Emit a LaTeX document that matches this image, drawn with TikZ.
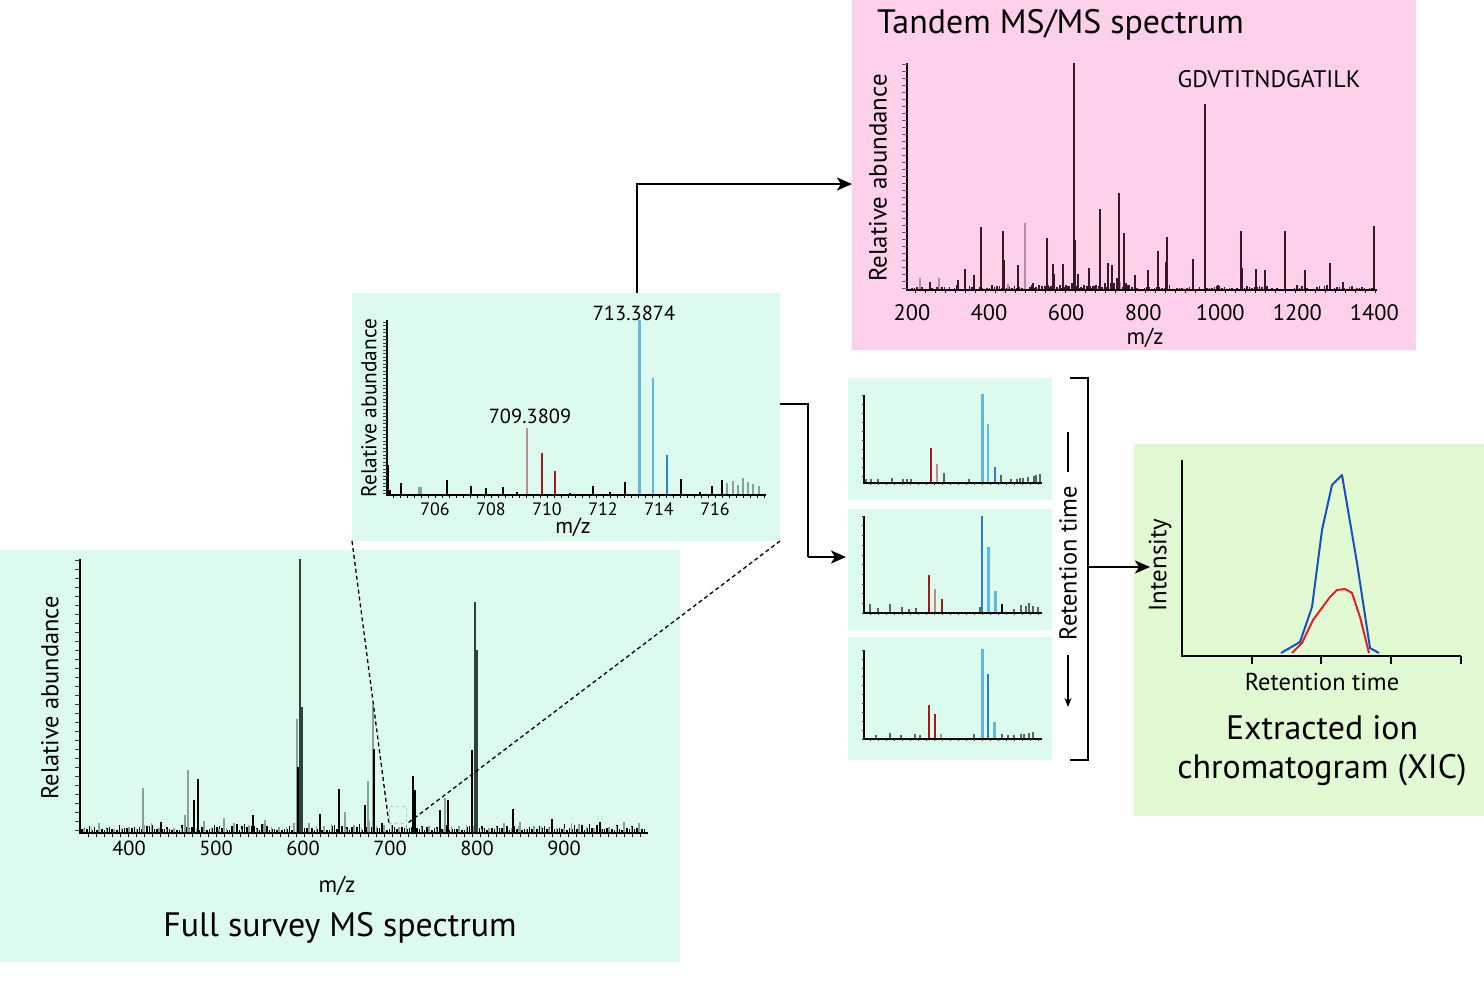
\documentclass[tikz,border=0pt]{standalone}
\usepackage{fontspec}
\setmainfont{PT Sans}
\usetikzlibrary{arrows.meta}
\definecolor{mint}{RGB}{220,250,238}
\definecolor{pinkbg}{RGB}{255,208,236}
\definecolor{xicbg}{RGB}{226,250,212}
\definecolor{peakdark}{RGB}{45,65,65}
\definecolor{peakgray}{RGB}{140,160,155}
\definecolor{msdark}{RGB}{55,25,40}
\definecolor{msgray}{RGB}{185,140,165}
\definecolor{rose}{RGB}{200,135,140}
\definecolor{dred}{RGB}{165,25,25}
\definecolor{lblue}{RGB}{95,185,225}
\definecolor{mblue}{RGB}{40,130,195}
\definecolor{xblue}{RGB}{25,80,190}
\definecolor{xred}{RGB}{230,30,40}
\newcommand\fsz[1]{\fontsize{#1}{#1}\selectfont}
\begin{document}
\begin{tikzpicture}[x=1bp,y=-1bp,
  panel/.style={rectangle,draw=none,inner sep=0pt,outer sep=0pt,anchor=north west},
  lbl/.style={inner sep=0pt,text=black},
  big/.style={lbl,font=\fsz{34}},
  axlab/.style={lbl,font=\fsz{24.5}},
  ticklab/.style={lbl,font=\fsz{20.5}},
  arr/.style={line width=2.2bp,-{Stealth[length=15bp,width=13bp,inset=4bp]}},
  ax/.style={line width=1.6bp,black},
  dline/.style={line width=1.3bp,dash pattern=on 4bp off 3bp},
  pkd/.style={line width=2bp,peakdark},
  pkb/.style={line width=1.5bp,black},
  pkg/.style={line width=2bp,peakgray},
  nz/.style={line width=1.3bp,black},
  msd/.style={line width=1.4bp,msdark},
  msg/.style={line width=2bp,msgray},
  rosep/.style={line width=2.8bp,rose},
  redp/.style={line width=2.5bp,dred},
  redt/.style={line width=1.5bp,dred},
  lbp/.style={line width=3bp,lblue},
  mbp/.style={line width=2.5bp,mblue},
  mbt/.style={line width=1.5bp,mblue}]
\useasboundingbox (0,0) rectangle (1484,980);
\fill[white] (0,0) rectangle (1484,980);
\pgfmathsetseed{4711}

% ---------------- panels ----------------
\node[panel,fill=mint,minimum width=680bp,minimum height=412bp] (full) at (0,550) {};
\node[panel,fill=mint,minimum width=428bp,minimum height=248bp] (zoom) at (352,293) {};
\node[panel,fill=pinkbg,minimum width=564bp,minimum height=350bp] (msms) at (852,0) {};
\node[panel,fill=mint,minimum width=204bp,minimum height=122bp] (sa) at (848,378) {};
\node[panel,fill=mint,minimum width=204bp,minimum height=121bp] (sb) at (848,509) {};
\node[panel,fill=mint,minimum width=204bp,minimum height=123bp] (sc) at (848,637) {};
\node[panel,fill=xicbg,minimum width=350bp,minimum height=372bp] (xic) at (1134,444) {};

% ---------------- full survey spectrum ----------------
\foreach \x in {82,84.5,...,645} {
  \pgfmathsetmacro\h{2+7*rnd*rnd}
  \draw[nz] (\x,832) -- (\x,{832-\h});
}
\foreach \x in {84,91.5,...,645} {
  \pgfmathsetmacro\h{3+9*rnd*rnd}
  \draw[line width=1.6bp,peakgray] (\x,832) -- (\x,{832-\h});
}
\foreach \x/\y in {143/788,188/770,297/719,368/781,373/705,224/818,185/815,265/820,345/812,445/798,520/822} \draw[pkg] (\x,832) -- (\x,\y);
\foreach \x/\y in {198/779,194/800,298/767,339/789,374/749,413/776,415/790,472/750,513/809,320/814,552/819,448/800,161/822,253/815,365/805,600/822,440/810}
  \draw[pkb] (\x,832) -- (\x,\y);
\foreach \x/\y in {300/559,302/707,475/602,477/650} \draw[pkd] (\x,832) -- (\x,\y);
\draw[ax] (80,559) -- (80,833) -- (648,833);
\foreach \y in {560,569,...,832} \draw[line width=1bp,peakdark] (75,\y) -- (80,\y);
\foreach \x in {88,96,...,645} \draw[line width=1bp] (\x,833) -- (\x,837);
\foreach \m in {400,500,...,900} \node[ticklab] (fx\m) at ({129+(\m-400)*0.87},848) {\m};
\node[axlab,rotate=90] (fya) at (50,698) {Relative abundance};
\node[axlab,font=\fsz{23}] (fxa) at (337,886) {m/z};
\node[big] (ftitle) at (340,928) {Full survey MS spectrum};
\node[draw=peakgray!60,dashed,line width=0.8bp,minimum width=17bp,minimum height=17bp,inner sep=0pt,anchor=north west] (sel) at (389,806) {};
\draw[dline] (zoom.south west) -- (sel.south west);
\draw[dline] (zoom.south east) -- (sel.south east);

% ---------------- zoomed spectrum ----------------
\foreach \x/\y in {419/487,421/487,727/483,733/481,738/485,743/478,748/482,753/484,759/486} \draw[line width=2bp,peakgray] (\x,495) -- (\x,\y);
\foreach \x/\y in {681/479,388/465,401/483,447/480,471/486,486/488,503/487,593/486,625/482,712/486,722/480,390/490,517/492,570/493,610/492,700/492}
  \draw[line width=1.4bp,black] (\x,495) -- (\x,\y);
\draw[rosep] (527,495) -- (527,428);
\draw[redp] (542,495) -- (542,453);
\draw[redt] (555,495) -- (555,471);
\draw[lbp] (639,495) -- (639,320);
\draw[line width=2.6bp,lblue] (653,495) -- (653,378);
\draw[mbt] (667,495) -- (667,455);
\draw[ax] (387,320) -- (387,495) -- (766,495);
\foreach \y in {322,325.5,...,494} \draw[line width=0.8bp,peakdark] (383,\y) -- (387,\y);
\foreach \x in {393,400,...,765} \draw[line width=0.8bp] (\x,495) -- (\x,498);
\foreach \m in {706,708,...,716} \node[lbl,font=\fsz{18}] (zx\m) at ({435+(\m-706)*28},509) {\m};
\node[lbl,font=\fsz{21.5},rotate=90] (zya) at (369,408) {Relative abundance};
\node[lbl,font=\fsz{22}] (zxa) at (573,527) {m/z};
\node[lbl,font=\fsz{20.5}] (p709) at (530,416) {709.3809};
\node[lbl,font=\fsz{20.5}] (p713) at (634,313) {713.3874};

% ---------------- MS/MS spectrum ----------------
\foreach \x in {912,914.5,...,1375} {
  \pgfmathsetmacro\h{1+5*rnd*rnd}
  \draw[line width=1.2bp,msdark] (\x,290) -- (\x,{290-\h});
}
\foreach \x in {1030,1033,...,1130} {
  \pgfmathsetmacro\h{3+22*rnd*rnd*rnd}
  \draw[line width=1.6bp,msdark] (\x,290) -- (\x,{290-\h});
}
\foreach \x/\y in {1025/223,920/278,939/278,1120/282,1008/284} \draw[msg] (\x,290) -- (\x,\y);
\foreach \x/\y in {1074/63,1205/104,1119/193,1100/209,981/227,1003/231,1004/260,1047/238,1124/233,1167/237,1166/262,1241/231,1242/268,1285/231,1374/226,1158/251,1193/259,1305/270,1330/263,1256/269,965/269,1018/265,1053/264,1063/264,1108/263,1112/265,1075/240,1205/258,1089/268,1135/275,1148/270,1265/270,1218/285,1297/285,1343/282,974/275,958/280,930/282}
  \draw[msd] (\x,290) -- (\x,\y);
\draw[ax,line width=1.4bp] (907,63) -- (907,290) -- (1377,290);
\foreach \y in {64,71,...,290} \draw[line width=1bp,msdark!70] (902,\y) -- (907,\y);
\foreach \x in {915,925,...,1375} \draw[line width=0.8bp] (\x,290) -- (\x,293);
\foreach \m in {200,400,...,1400} \node[lbl,font=\fsz{22.5}] (mx\m) at ({912+(\m-200)*0.3853},313) {\m};
\node[lbl,font=\fsz{23}] (mxa) at (1145,338) {m/z};
\node[lbl,font=\fsz{25},rotate=90] (mya) at (878,178) {Relative abundance};
\node[lbl,font=\fsz{24}] (seq) at (1269,79) {GDVTITNDGATILK};
\node[big,anchor=west] (mtitle) at (877,25) {Tandem MS/MS spectrum};

% ---------------- small spectra ----------------
% spectrum a
\foreach \x/\y in {866/479,871/479,878/479,892/478,903/479,907/479,911/479,969/479,1001/475,1011/479,1017/479,1020/478,1023/478,1028/477,1034/476,1036/475,1040/474}
  \draw[line width=1.6bp,peakdark!80] (\x,483) -- (\x,\y);
\draw[redt] (931,483) -- (931,448);
\draw[rosep] (937,483) -- (937,464);
\draw[line width=2.5bp,peakdark!80] (944,483) -- (944,473);
\draw[lbp] (982,483) -- (982,394);
\draw[line width=2.5bp,lblue] (988,483) -- (988,424);
\draw[mbt] (995,483) -- (995,467);
\draw[ax,line width=1.3bp] (864,395) -- (864,483) -- (1042,483);
\foreach \y in {395,404,...,483} \draw[line width=0.6bp,peakdark] (862,\y) -- (864,\y);
\foreach \x in {870,878,...,1040} \draw[line width=0.6bp,peakdark] (\x,483) -- (\x,485);
% spectrum b
\foreach \x/\y in {864/600,870/604,878/608,890/604,902/607,909/609,916/608,980/607,1014/609,1021/605,1026/606,1029/603,1033/606,1038/607}
  \draw[line width=1.6bp,peakdark!80] (\x,613) -- (\x,\y);
\draw[redp] (929,613) -- (929,575);
\draw[rosep] (935,613) -- (935,589);
\draw[redt] (942,613) -- (942,599);
\draw[mbp] (982,613) -- (982,516);
\draw[lbp] (988,613) -- (988,547);
\draw[lbp] (995,613) -- (995,591);
\draw[pkb] (1002,613) -- (1002,604);
\draw[ax,line width=1.3bp] (864,516) -- (864,613) -- (1042,613);
\foreach \y in {516,525.7,...,613} \draw[line width=0.6bp,peakdark] (862,\y) -- (864,\y);
\foreach \x in {870,878,...,1040} \draw[line width=0.6bp,peakdark] (\x,613) -- (\x,615);
% spectrum c
\foreach \x/\y in {876/735,890/733,901/735,915/734,920/735,974/734,1002/734,1008/735,1014/735,1021/734,1024/734,1029/733,1033/732}
  \draw[line width=1.6bp,peakdark!80] (\x,739) -- (\x,\y);
\draw[redp] (929,739) -- (929,705);
\draw[redp] (935,739) -- (935,714);
\draw[rosep] (941,739) -- (941,734);
\draw[lbp] (982,739) -- (982,649);
\draw[mbp] (988,739) -- (988,674);
\draw[lbp] (994,739) -- (994,722);
\draw[ax,line width=1.3bp] (864,650) -- (864,739) -- (1042,739);
\foreach \y in {650,658.9,...,739} \draw[line width=0.6bp,peakdark] (862,\y) -- (864,\y);
\foreach \x in {870,878,...,1040} \draw[line width=0.6bp,peakdark] (\x,739) -- (\x,741);

% ---------------- retention-time bracket ----------------
\draw[line width=2bp] (1070,378) -- (1088,378) -- (1088,760) -- (1070,760);
\node[lbl,font=\fsz{24.5},rotate=90] (rt) at (1068,563) {Retention time};
\draw[line width=1.5bp] (1068,432) -- (1068,472);
\draw[line width=1.5bp,-{Stealth[length=9bp,width=7bp]}] (1068,655) -- (1068,707);

% ---------------- XIC ----------------
\draw[ax] (1182,460) -- (1182,656) -- (1461,656);
\foreach \x in {1252,1321,1391,1461} \draw[ax] (\x,656) -- (\x,664);
\draw[line width=2bp,xblue,line join=round] (1281,653) -- (1300,642) -- (1312,607) -- (1322,530) -- (1332,485) -- (1342,475) -- (1357,563) -- (1370,648) -- (1379,653);
\draw[line width=2bp,xred,line join=round] (1292,653) -- (1302,643) -- (1313,620) -- (1330,597) -- (1337,590) -- (1345,589) -- (1352,593) -- (1360,617) -- (1369,653);
\node[lbl,font=\fsz{25},rotate=90] (xya) at (1160,565) {Intensity};
\node[lbl,font=\fsz{24.5}] (xxa) at (1322,682) {Retention time};
\node[big] (xt1) at (1322,728) {Extracted ion};
\node[big] (xt2) at (1322,770) {chromatogram (XIC)};

% ---------------- connectors ----------------
\coordinate (zt) at (637,293);
\coordinate (msin) at (852,184);
\draw[arr] (zt) |- (msin);
\coordinate (zr) at (780,404);
\coordinate (sbin) at (846,557);
\draw[line width=2bp] (zr) -- (808,404) -- (808,557);
\draw[arr] (808,557) -- (sbin);
\coordinate (brk) at (1088,567);
\coordinate (xin) at (1150,567);
\draw[arr] (brk) -- (xin);
\end{tikzpicture}
\end{document}
